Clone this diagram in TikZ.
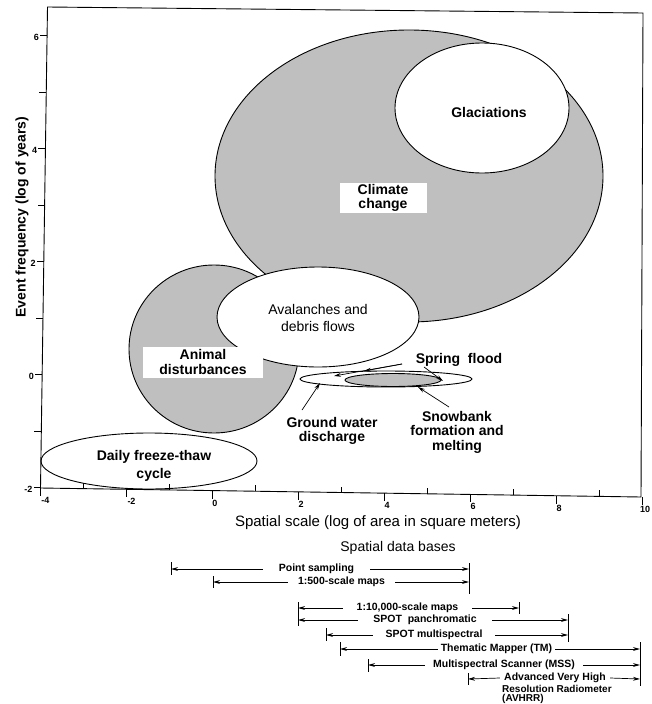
\documentclass[tikz,border=0pt]{standalone}
\usepackage{fontspec}
\setmainfont{Liberation Sans}
\usetikzlibrary{shapes.geometric,arrows.meta}
\begin{document}
\begin{tikzpicture}[x=1pt,y=-1pt,
  shaded/.style={ellipse,draw,line width=0.9pt,fill=black!25,inner sep=0pt},
  blank/.style={ellipse,draw,line width=0.9pt,fill=white,inner sep=0pt},
  lbl/.style={font=\bfseries\fontsize{14}{15}\selectfont,align=center,inner sep=0pt},
  rlbl/.style={font=\fontsize{14}{17}\selectfont,align=center,inner sep=0pt},
  ticklbl/.style={font=\bfseries\fontsize{9}{10}\selectfont,inner sep=0pt},
  axisline/.style={line width=0.9pt},
  bar/.style={line width=0.8pt},
  arr/.style={line width=0.7pt,-{Stealth[length=7pt,width=3.8pt]}},
  db/.style={font=\bfseries\fontsize{10.5}{12}\selectfont,inner sep=0pt,minimum height=9pt},
]
\useasboundingbox (0,0) rectangle (652,704);

% ellipses
\node[shaded,minimum width=388pt,minimum height=292pt] (cc) at (409,176) {};
\node[blank,minimum width=174pt,minimum height=130pt] (gl) at (482,108) {};
\node[shaded,minimum width=170pt,minimum height=168pt] (an) at (214,349) {};
\node[blank,minimum width=202pt,minimum height=100pt] (av) at (318,317) {};
\node[blank,minimum width=172pt,minimum height=16pt] (gw) at (386,379) {};
\node[shaded,minimum width=96pt,minimum height=13pt] (sb) at (393,380) {};
\node[blank,minimum width=216pt,minimum height=56pt] (df) at (149,461) {};

% plot frame
\draw[axisline] (47.5,7) -- (643,13) -- (641,497) -- (40.5,488) -- cycle;

% x ticks
\foreach \u in {-4,-2,...,10}{
  \pgfmathsetmacro\tx{40.5+43*(\u+4)}
  \pgfmathsetmacro\ty{488+0.6435*(\u+4)}
  \draw[axisline] (\tx,\ty) -- (\tx,\ty+8);
}
\foreach \u in {-3,-1,...,9}{
  \pgfmathsetmacro\tx{40.5+43*(\u+4)}
  \pgfmathsetmacro\ty{488+0.6435*(\u+4)}
  \draw[axisline] (\tx,\ty) -- (\tx,\ty-6);
}
\foreach \u/\nm in {-4/xa,-2/xb}{
  \pgfmathsetmacro\tx{40.5+43*(\u+4)}
  \pgfmathsetmacro\ty{488+0.6435*(\u+4)}
  \node[ticklbl,anchor=north] (\nm) at (\tx+5,\ty+9) {-\the\numexpr-\u\relax};
}
\foreach \u/\nm in {0/xc,2/xd,4/xe,6/xf,8/xg,10/xh}{
  \pgfmathsetmacro\tx{40.5+43*(\u+4)}
  \pgfmathsetmacro\ty{488+0.6435*(\u+4)}
  \node[ticklbl,anchor=north] (\nm) at (\tx+2.5,\ty+9) {\u};
}

% y ticks
\foreach \v in {-2,...,6}{
  \pgfmathsetmacro\ty{374.5-56.5*\v}
  \pgfmathsetmacro\tx{47.5-7*(\ty-7)/481}
  \draw[axisline] (\tx,\ty) -- (\tx-7,\ty);
}
\foreach \v/\nm in {-2/ya,0/yb,2/yc,4/yd,6/ye}{
  \pgfmathsetmacro\ty{374.5-56.5*\v}
  \pgfmathsetmacro\tx{47.5-7*(\ty-7)/481}
  \node[ticklbl,anchor=east] (\nm) at (\tx-8,\ty+2) {\v};
}

% axis titles
\node[font=\bfseries\fontsize{14}{15}\selectfont,rotate=90,inner sep=0pt] (ylab) at (22,217) {Event frequency (log of years)};
\node[font=\fontsize{15}{16}\selectfont,inner sep=0pt] (xlab) at (378,523) {Spatial scale (log of area in square meters)};

% labels
\node[lbl] (glL) at (489,112) {Glaciations};
\node[lbl,font=\bfseries\fontsize{14}{13.5}\selectfont,fill=white,minimum width=87pt,minimum height=30pt] (ccL) at (383,198) {Climate\\change};
\node[lbl,fill=white,minimum width=120pt,minimum height=31pt] (anL) at (203,362) {Animal\\disturbances};
\node[rlbl] (avL) at (318,318) {Avalanches and\\debris flows};
\node[lbl,font=\bfseries\fontsize{14}{18}\selectfont] (dfL) at (154,466) {Daily freeze-thaw\\cycle};
\node[lbl] (sfL) at (459,360) {Spring\ \ flood};
\node[lbl,font=\bfseries\fontsize{14}{13.5}\selectfont] (gwL) at (332,431) {Ground water\\discharge};
\node[lbl,font=\bfseries\fontsize{14}{14.5}\selectfont] (sbL) at (457,432) {Snowbank\\formation and\\melting};

% pointers
\coordinate (gwS) at (302,410);
\coordinate (gwT) at (320,383);
\draw[arr] (gwS) -- (gwT);
\coordinate (sbS) at (449,407);
\coordinate (sbT) at (418,387);
\draw[arr] (sbS) -- (sbT);
\coordinate (sfS) at (402,364);
\coordinate (sfA) at (334,376);
\coordinate (sfB) at (364,371);
\draw[arr] (sfS) -- (sfA);
\draw[arr] (sfS) -- (sfB);
\coordinate (sfR) at (424,367);
\coordinate (sfT) at (443,381);
\draw[arr] (sfR) -- (sfT);

% spatial data bases
\node[font=\fontsize{14}{15}\selectfont,inner sep=0pt] (dbt) at (398,548) {Spatial data bases};

\draw[bar] (171,562) -- (171,575);
\draw[bar] (469,563) -- (469,594);
\draw[bar] (213,576) -- (213,588);
\draw[bar] (298,602) -- (298,626);
\draw[bar] (519,602) -- (519,614);
\draw[bar] (568,614) -- (568,642);
\draw[bar] (326,628) -- (326,641);
\draw[bar] (340,642) -- (340,656);
\draw[bar] (640,642) -- (640,686);
\draw[bar] (368,659) -- (368,672);
\draw[bar] (468,673) -- (468,685);

\node[db,minimum width=107pt] (ps) at (316.5,569) {Point sampling};
\coordinate (psL) at (171,569); \coordinate (psR) at (469,569);
\draw[arr] (ps.west) -- (psL); \draw[arr] (ps.east) -- (psR);

\node[db,minimum width=107pt] (m5) at (341.5,582) {1:500-scale maps};
\coordinate (m5L) at (213,582); \coordinate (m5R) at (469,582);
\draw[arr] (m5.west) -- (m5L); \draw[arr] (m5.east) -- (m5R);

\node[db,minimum width=129pt] (m10) at (407.5,608) {1:10,000-scale maps};
\coordinate (m10L) at (298,608); \coordinate (m10R) at (519,608);
\draw[arr] (m10.west) -- (m10L); \draw[arr] (m10.east) -- (m10R);

\node[db,minimum width=134pt] (sp) at (425,620) {SPOT\ \ panchromatic};
\coordinate (spL) at (298,620); \coordinate (spR) at (568,620);
\draw[arr] (sp.west) -- (spL); \draw[arr] (sp.east) -- (spR);

\node[db,minimum width=122pt] (sm) at (434,635) {SPOT multispectral};
\coordinate (smL) at (326,635); \coordinate (smR) at (568,635);
\draw[arr] (sm.west) -- (smL); \draw[arr] (sm.east) -- (smR);

\node[db,minimum width=117pt] (tm) at (496.5,649) {Thematic Mapper (TM)};
\coordinate (tmL) at (340,649); \coordinate (tmR) at (640,649);
\draw[arr] (tm.west) -- (tmL); \draw[arr] (tm.east) -- (tmR);

\node[db,minimum width=158pt] (mss) at (504,665) {Multispectral Scanner (MSS)};
\coordinate (mssL) at (368,665); \coordinate (mssR) at (640,665);
\draw[arr] (mss.west) -- (mssL); \draw[arr] (mss.east) -- (mssR);

\node[db,minimum width=110pt,minimum height=0pt] (av1) at (555,678) {Advanced Very High};
\coordinate (avL1) at (468,679); \coordinate (avR1) at (640,679);
\draw[arr] (av1.west) -- (avL1); \draw[arr] (av1.east) -- (avR1);
\node[db,font=\bfseries\fontsize{10}{9.3}\selectfont,align=left,anchor=north west,minimum height=0pt] (av2) at (502,685) {Resolution Radiometer\\(AVHRR)};
\end{tikzpicture}
\end{document}
